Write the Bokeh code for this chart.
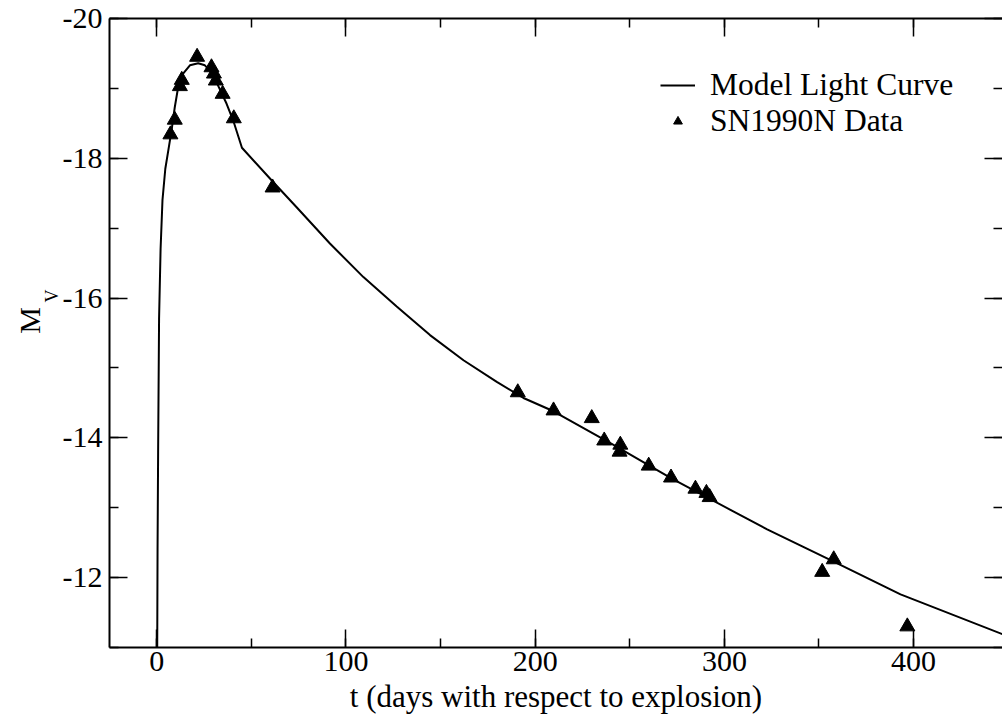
import math
from bokeh.plotting import figure
from bokeh.models import (Range1d, LinearAxis, SingleIntervalTicker, Legend,
                          LegendItem, Label, CustomJSTickFormatter)
from bokeh.embed import file_html
from bokeh.resources import INLINE

# ---- data ----
model_t = [0.2, 0.4, 0.7, 1.2, 2.0, 3.0, 4.5, 6.0, 7.8, 9.5, 11.3, 13.9, 17.5,
           21.9, 25.4, 28.9, 32.4, 36.9, 40.4, 45.0, 61.5, 73.9, 91.5, 109.2,
           126.8, 144.4, 162.1, 179.7, 193.8, 209.7, 241.4, 272.0, 303.2,
           322.6, 357.8, 393.1, 447.0]
model_m = [-10.8, -12.4, -13.8, -15.7, -16.7, -17.4, -17.85, -18.1, -18.4,
           -18.73, -19.02, -19.21, -19.33, -19.36, -19.33, -19.23, -19.04,
           -18.78, -18.54, -18.15, -17.66, -17.30, -16.78, -16.30, -15.88,
           -15.47, -15.11, -14.80, -14.57, -14.38, -13.90, -13.42, -12.97,
           -12.69, -12.23, -11.76, -11.19]

data_t = [7.2, 9.5, 12.2, 13.2, 21.3, 28.9, 30.2, 31.2, 34.8, 40.7, 61.2,
          190.8, 209.7, 229.9, 236.5, 245.0, 244.6, 260.0, 271.8, 284.7,
          290.5, 292.2, 351.7, 357.8, 396.7]
data_m = [-18.34, -18.55, -19.03, -19.12, -19.45, -19.30, -19.21, -19.11,
          -18.92, -18.57, -17.58, -14.65, -14.39, -14.28, -13.96, -13.90,
          -13.80, -13.60, -13.43, -13.27, -13.21, -13.15, -12.08, -12.26,
          -11.30]

x_title = "t (days with respect to explosion)"
y_title_main = "M"
y_title_sub = "V"
series_names = ["Model Light Curve", "SN1990N Data"]

FONT = "Liberation Serif"
FS = "30px"
X0, X1 = -25, 447
Y0, Y1 = -11, -20

p = figure(width=1002, height=725, output_backend="svg", toolbar_location=None,
           x_range=Range1d(X0, X1), y_range=Range1d(Y0, Y1),
           min_border_left=109, min_border_top=18, min_border_right=0,
           min_border_bottom=78, background_fill_color="white",
           border_fill_color="white")
p.grid.visible = False
p.outline_line_color = None

hyphen_fmt = CustomJSTickFormatter(code="return tick.toFixed(0)")


def style(ax, labels=True):
    ax.major_tick_in = 18
    ax.major_tick_out = 0
    ax.minor_tick_in = 9
    ax.minor_tick_out = 0
    ax.axis_line_width = 2
    ax.axis_line_color = "black"
    ax.major_tick_line_width = 1.5
    ax.minor_tick_line_width = 1.5
    ax.major_tick_line_color = "black"
    ax.minor_tick_line_color = "black"
    ax.major_label_text_font = FONT
    ax.major_label_text_color = "black"
    if labels:
        ax.major_label_text_font_size = FS
        ax.formatter = hyphen_fmt
    else:
        ax.major_label_text_font_size = "0px"
        ax.formatter = CustomJSTickFormatter(code="return ''")
        ax.major_label_standoff = 0


xa = p.xaxis[0]
xa.ticker = SingleIntervalTicker(interval=100, num_minor_ticks=2)
style(xa)
xa.major_label_standoff = 4
xa.axis_label = x_title
xa.axis_label_text_font = FONT
xa.axis_label_text_font_size = "31px"
xa.axis_label_text_font_style = "normal"
xa.axis_label_text_color = "black"
xa.axis_label_standoff = 5

ya = p.yaxis[0]
ya.ticker = SingleIntervalTicker(interval=2, num_minor_ticks=2)
style(ya)
ya.major_label_standoff = 7

top = LinearAxis(ticker=SingleIntervalTicker(interval=100, num_minor_ticks=2))
style(top, labels=False)
p.add_layout(top, "above")

right = LinearAxis(ticker=SingleIntervalTicker(interval=2, num_minor_ticks=2))
style(right, labels=False)
right.axis_line_color = None
p.add_layout(right, "right")

line_r = p.line(model_t, model_m, line_color="black", line_width=2)
sc_r = p.scatter(data_t, data_m, marker="triangle", size=15,
                 fill_color="black", line_color="black")

legend = Legend(items=[LegendItem(label=series_names[0], renderers=[line_r]),
                       LegendItem(label=series_names[1], renderers=[sc_r])],
                location=(551, 508), label_text_font=FONT,
                label_text_font_size="31.5px", label_text_color="black",
                glyph_width=35, glyph_height=22, label_height=22,
                label_standoff=15, spacing=0, padding=0, margin=0,
                border_line_color=None, background_fill_alpha=0)
p.add_layout(legend)

# y-axis title "M" with subscript "V" (side panel, so it is not clipped)
p.add_layout(Label(x=X0, y=-15.68, x_offset=-80, angle=math.pi / 2,
                   text=y_title_main, text_font=FONT, text_font_size=FS,
                   text_align="center", text_baseline="alphabetic",
                   text_color="black"), "left")
p.add_layout(Label(x=X0, y=-16.03, x_offset=-58, angle=math.pi / 2,
                   text=y_title_sub, text_font=FONT, text_font_size="18px",
                   text_align="center", text_baseline="alphabetic",
                   text_color="black"), "left")

open("out.html", "w").write(file_html(p, INLINE))
